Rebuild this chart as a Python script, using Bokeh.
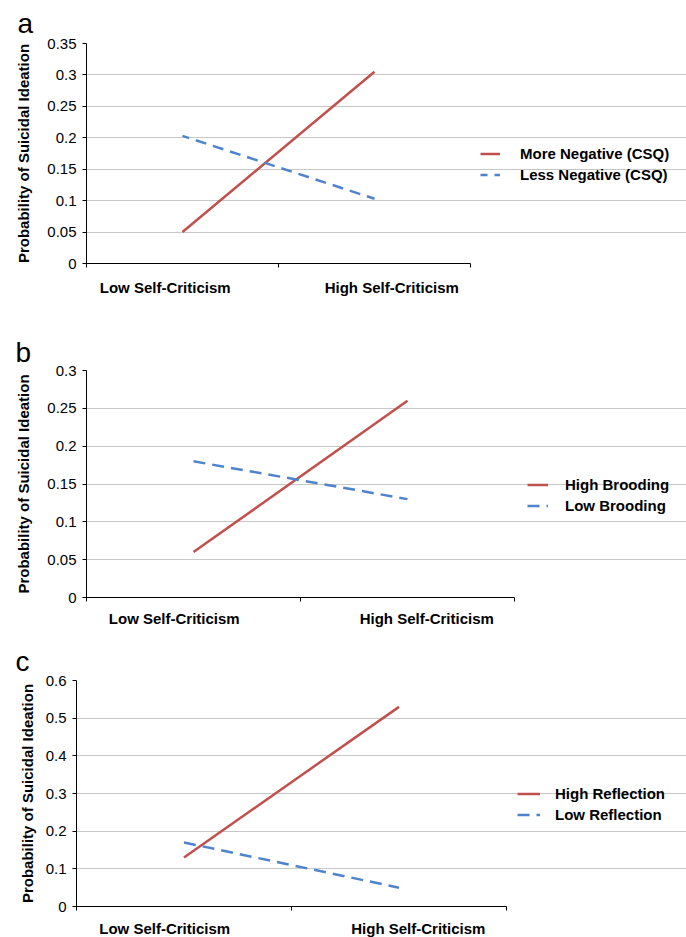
from bokeh.plotting import figure
from bokeh.layouts import column
from bokeh.models import FixedTicker, Legend, LegendItem, Range1d
from bokeh.embed import file_html
from bokeh.resources import INLINE

# ---------------- data ----------------
categories = ["Low Self-Criticism", "High Self-Criticism"]
y_title = "Probability of Suicidal Ideation"

a_series = ["More Negative (CSQ)", "Less Negative (CSQ)"]
a_red = [0.05, 0.305]
a_blue = [0.203, 0.103]
a_yticks = [0, 0.05, 0.1, 0.15, 0.2, 0.25, 0.3, 0.35]
a_yticklabels = ["0", "0.05", "0.1", "0.15", "0.2", "0.25", "0.3", "0.35"]

b_series = ["High Brooding", "Low Brooding"]
b_red = [0.06, 0.26]
b_blue = [0.18, 0.13]
b_yticks = [0, 0.05, 0.1, 0.15, 0.2, 0.25, 0.3]
b_yticklabels = ["0", "0.05", "0.1", "0.15", "0.2", "0.25", "0.3"]

c_series = ["High Reflection", "Low Reflection"]
c_red = [0.13, 0.53]
c_blue = [0.17, 0.05]
c_yticks = [0, 0.1, 0.2, 0.3, 0.4, 0.5, 0.6]
c_yticklabels = ["0", "0.1", "0.2", "0.3", "0.4", "0.5", "0.6"]

# ---------------- style ----------------
FONT = "Liberation Sans"
RED = "#C0504D"
BLUE = "#4F83CC"
GRID = "#C8C8C8"
LABEL_SHIFT = 0.09
TOTAL_W = 686


def make_panel(letter, series, red, blue, yticks, yticklabels, geo):
    n = len(categories)
    xs = [i + 0.5 for i in range(n)]
    frame_w = TOTAL_W - geo["left"]
    x_end = n * frame_w / geo["plot_w"]
    p = figure(
        frame_width=frame_w, frame_height=geo["fh"],
        min_border_left=geo["left"], min_border_right=0,
        min_border_top=geo["top"], min_border_bottom=geo["bottom"],
        x_range=Range1d(0, x_end), y_range=Range1d(yticks[0], yticks[-1]),
        output_backend="svg", toolbar_location=None,
    )
    p.frame_align = False
    p.outline_line_color = None
    p.background_fill_color = "white"
    p.border_fill_color = "white"

    r_red = p.line(xs, red, line_color=RED, line_width=2.5)
    r_blue = p.line(xs, blue, line_color=BLUE, line_width=2.5,
                    line_dash=geo["dash"], line_dash_offset=geo["doff"])

    # x axis: labels (slightly shifted like the original) and boundary ticks
    label_ticks = []
    for i in range(n):
        shift = -LABEL_SHIFT if i < n / 2 else LABEL_SHIFT
        label_ticks.append(round(xs[i] + shift, 4))
    xa = p.xaxis[0]
    xa.bounds = (0, n)
    xa.ticker = FixedTicker(ticks=label_ticks, minor_ticks=list(range(n + 1)))
    xa.major_label_overrides = {t: c for t, c in zip(label_ticks, categories)}
    xa.major_tick_line_color = None
    xa.major_tick_out = 0
    xa.major_tick_in = 0
    xa.minor_tick_line_color = "black"
    xa.minor_tick_out = 4
    xa.minor_tick_in = 0
    xa.axis_line_color = "black"
    xa.major_label_text_font = FONT
    xa.major_label_text_font_style = "bold"
    xa.major_label_text_font_size = "15px"
    xa.major_label_text_color = "black"
    xa.major_label_standoff = geo["xstand"]

    ya = p.yaxis[0]
    ya.ticker = FixedTicker(ticks=yticks)
    ya.major_label_overrides = {t: l for t, l in zip(yticks, yticklabels)}
    ya.major_tick_out = 4
    ya.major_tick_in = 0
    ya.minor_tick_line_color = None
    ya.axis_line_color = "black"
    ya.major_label_text_font = FONT
    ya.major_label_text_font_size = "15px"
    ya.major_label_text_color = "black"
    ya.major_label_standoff = 6
    ya.axis_label = y_title
    ya.axis_label_text_font = FONT
    ya.axis_label_text_font_style = "bold"
    ya.axis_label_text_font_size = "15px"
    ya.axis_label_text_color = "black"
    ya.axis_label_standoff = geo["ystand"]

    p.xgrid.grid_line_color = None
    p.ygrid.ticker = FixedTicker(ticks=yticks)
    p.ygrid.bounds = (0, n)
    p.ygrid.grid_line_color = GRID
    p.ygrid.grid_line_width = 1

    legend = Legend(
        items=[LegendItem(label=series[0], renderers=[r_red]),
               LegendItem(label=series[1], renderers=[r_blue])],
        location=geo["legend_loc"],
        glyph_width=geo["gw"], glyph_height=21, label_height=21,
        label_standoff=geo["gs"], spacing=0, padding=0, margin=0,
        border_line_color=None, background_fill_alpha=0,
        label_text_font=FONT, label_text_font_style="bold",
        label_text_font_size="15px", label_text_color="black",
    )
    p.add_layout(legend)

    p.title.text = letter
    p.title.align = "left"
    p.title.offset = geo["lx"]
    p.title.standoff = geo["ls"]
    p.title.text_font = FONT
    p.title.text_font_style = "normal"
    p.title.text_font_size = "28px"
    p.title.text_color = "black"
    return p


pa = make_panel("a", a_series, a_red, a_blue, a_yticks, a_yticklabels,
                dict(plot_w=384, fh=220, left=86, top=43, bottom=55,
                     dash="11 7", doff=4, legend_loc=(394, 78.5), gw=20, gs=20,
                     lx=-69, ls=10, xstand=11, ystand=12))
pb = make_panel("b", b_series, b_red, b_blue, b_yticks, b_yticklabels,
                dict(plot_w=428, fh=227, left=86, top=52, bottom=42,
                     dash="12 7", doff=0, legend_loc=(441, 81.5), gw=21, gs=17,
                     lx=-71, ls=6, xstand=8, ystand=12))
pc = make_panel("c", c_series, c_red, c_blue, c_yticks, c_yticklabels,
                dict(plot_w=430, fh=226, left=76, top=41, bottom=30,
                     dash="12 7", doff=0, legend_loc=(441, 81.5), gw=23, gs=15,
                     lx=-61, ls=8, xstand=9, ystand=7))

layout = column(pa, pb, pc, spacing=0)
open("out.html", "w").write(file_html(layout, INLINE))
